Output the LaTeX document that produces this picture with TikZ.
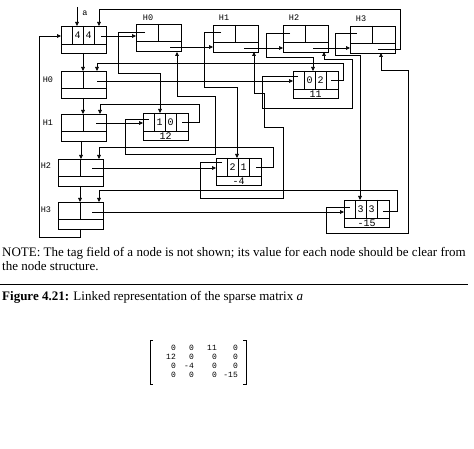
\documentclass[tikz,border=0pt]{standalone}
\usepackage{fontspec}
\setmainfont{Liberation Serif}
\newfontfamily\cellfont{Liberation Mono}
\usetikzlibrary{arrows.meta}
\tikzset{
  ln/.style={line width=0.6pt},
  box/.style={draw, line width=0.6pt, minimum width=45pt, minimum height=27pt, inner sep=0pt, anchor=north west},
  arr/.style={line width=0.6pt, -{Triangle[length=4pt,width=3.6pt]}},
  lab/.style={inner sep=0pt, font=\cellfont\fontsize{10}{10}\selectfont},
  hlab/.style={inner sep=0pt, font=\cellfont\fontsize{8.5}{8.5}\selectfont},
  mat/.style={inner sep=0pt, anchor=base east, font=\cellfont\fontsize{8}{8}\selectfont},
  txt/.style={inner sep=0pt, anchor=base west, font=\fontsize{13}{14}\selectfont},
}
\newcommand{\hdrnode}[3]{%
  \node[box] (#1) at (#2,#3) {};
  \draw[ln] (#2,#3+17) -- (#2+45,#3+17);
  \draw[ln] (#2+22,#3) -- (#2+22,#3+17);
}
\newcommand{\elnode}[6]{%
  \node[box] (#1) at (#2,#3) {};
  \draw[ln] (#2,#3+18) -- (#2+45,#3+18);
  \draw[ln] (#2+11,#3) -- (#2+11,#3+18);
  \draw[ln] (#2+22,#3) -- (#2+22,#3+18);
  \draw[ln] (#2+33,#3) -- (#2+33,#3+18);
  \node[lab] (#1-r) at (#2+16.5,#3+9) {#4};
  \node[lab] (#1-c) at (#2+27.5,#3+9) {#5};
  \node[lab] (#1-v) at (#2+22.5,#3+22.8) {#6};
}
\begin{document}
\begin{tikzpicture}[x=1pt,y=-1pt]
\useasboundingbox (0,0) rectangle (474,449);
\fill[white] (0,0) rectangle (474,449);

% ---- nodes
\elnode{head}{61}{26}{4}{4}{}
\hdrnode{H0t}{136}{24}
\hdrnode{H1t}{213}{25}
\hdrnode{H2t}{283}{25}
\hdrnode{H3t}{350}{26}
\hdrnode{H0l}{61}{71}
\hdrnode{H1l}{61}{114}
\hdrnode{H2l}{58}{159}
\hdrnode{H3l}{58}{202}
\elnode{E10}{143}{113}{1}{0}{12}
\elnode{E02}{293}{71}{0}{2}{11}
\elnode{E21}{216}{158}{2}{1}{-4}
\elnode{E33}{344}{200}{3}{3}{-15}

% ---- labels
\node[hlab] (lH0t) at (148,18) {H0};
\node[hlab] (lH1t) at (224,18) {H1};
\node[hlab] (lH2t) at (294,18) {H2};
\node[hlab] (lH3t) at (361,19) {H3};
\node[hlab] (lH0l) at (48,80) {H0};
\node[hlab] (lH1l) at (48,123) {H1};
\node[hlab] (lH2l) at (46,166) {H2};
\node[hlab] (lH3l) at (46,210) {H3};
\node[hlab] (la) at (85,13) {a};
\coordinate (aptr) at (77,7);
\draw[arr] (aptr) -- (77,26);

% ---- next links (top row)
\coordinate (headn) at (101,36);
\draw[arr] (headn) -- (136,36);
\coordinate (H0tn) at (170,47);
\draw[arr] (H0tn) -- (H1t.west |- H0tn);
\coordinate (H1tn) at (244,48);
\draw[arr] (H1tn) -- (H2t.west |- H1tn);
\coordinate (H2tn) at (313,48);
\draw[arr] (H2tn) -- (H3t.west |- H2tn);
\coordinate (H3tn) at (378,49);
\draw[arr] (H3tn) -- (400,49) -- (400,9) -- (99,9) -- (99,26);

% ---- next links (left column)
\draw[arr] (83,53) -- (83,71);
\draw[arr] (83,98) -- (83,114);
\draw[arr] (81,141) -- (81,159);
\draw[arr] (80,186) -- (80,202);
\draw[arr] (80,229) -- (80,237) -- (39,237) -- (39,36) -- (head.west |- 0,36);

% ---- column header down pointers
\coordinate (H0td) at (145,32);
\draw[arr] (H0td) -- (118,32) -- (118,73) -- (160,73) -- (160,113);
\coordinate (H1td) at (221,32);
\draw[arr] (H1td) -- (204,32) -- (204,87) -- (237,87) -- (237,158);
\coordinate (H2td) at (290,33);
\draw[arr] (H2td) -- (266,33) -- (266,57) -- (313,57) -- (313,71);
\coordinate (H3td) at (357,33);
\draw[arr] (H3td) -- (335,33) -- (335,55) -- (360,55) -- (360,200);

% ---- element down pointers back to column headers
\coordinate (E10d) at (149,119);
\draw[arr] (E10d) -- (125,119) -- (125,154) -- (215,154) -- (215,96) -- (177,96) -- (177,52);
\coordinate (E21d) at (222,162);
\draw[arr] (E21d) -- (200,162) -- (200,198) -- (283,198) -- (283,127) -- (264,127) -- (264,93) -- (254,93) -- (254,52);
\coordinate (E02d) at (298,76);
\draw[arr] (E02d) -- (262,76) -- (262,108) -- (352,108) -- (352,59) -- (324,59) -- (324,52);
\coordinate (E33d) at (350,207);
\draw[arr] (E33d) -- (326,207) -- (326,233) -- (408,233) -- (408,70) -- (381,70) -- (381,53);

% ---- row header right pointers
\coordinate (H0lr) at (97,81);
\draw[arr] (H0lr) -- (E02.west |- H0lr);
\coordinate (H1lr) at (96,123);
\draw[arr] (H1lr) -- (E10.west |- H1lr);
\coordinate (H2lr) at (92,168);
\draw[arr] (H2lr) -- (E21.west |- H2lr);
\coordinate (H3lr) at (92,212);
\draw[arr] (H3lr) -- (E33.west |- H3lr);

% ---- element right pointers back to row headers
\coordinate (E02r) at (331,80);
\draw[arr] (E02r) -- (343,80) -- (343,63) -- (97,63) -- (97,71);
\coordinate (E10r) at (182,122);
\draw[arr] (E10r) -- (199,122) -- (199,104) -- (100,104) -- (100,114);
\coordinate (E21r) at (256,167);
\draw[arr] (E21r) -- (273,167) -- (273,147) -- (99,147) -- (99,159);
\coordinate (E33r) at (383,211);
\draw[arr] (E33r) -- (397,211) -- (397,190) -- (99,190) -- (99,202);

% ---- note and caption
\node[txt] (note1) at (2,257) {NOTE: The tag field of a node is not shown; its value for each node should be clear from};
\node[txt] (note2) at (2,271) {the node structure.};
\draw[line width=0.8pt] (0,284) -- (468,284);
\node[txt] (cap) at (2,300) {\textbf{Figure 4.21:} Linked representation of the sparse matrix \textit{a}};

% ---- matrix
\draw[line width=0.6pt] (153,340) -- (150,340) -- (150,384) -- (153,384);
\draw[line width=0.6pt] (243,340) -- (246,340) -- (246,384) -- (243,384);
\node[mat] (m11) at (176,350) {0};
\node[mat] (m12) at (194,350) {0};
\node[mat] (m13) at (217,350) {11};
\node[mat] (m14) at (238,350) {0};
\node[mat] (m21) at (176,359) {12};
\node[mat] (m22) at (194,359) {0};
\node[mat] (m23) at (217,359) {0};
\node[mat] (m24) at (238,359) {0};
\node[mat] (m31) at (176,368) {0};
\node[mat] (m32) at (194,368) {-4};
\node[mat] (m33) at (217,368) {0};
\node[mat] (m34) at (238,368) {0};
\node[mat] (m41) at (176,377) {0};
\node[mat] (m42) at (194,377) {0};
\node[mat] (m43) at (217,377) {0};
\node[mat] (m44) at (238,377) {-15};
\end{tikzpicture}
\end{document}
